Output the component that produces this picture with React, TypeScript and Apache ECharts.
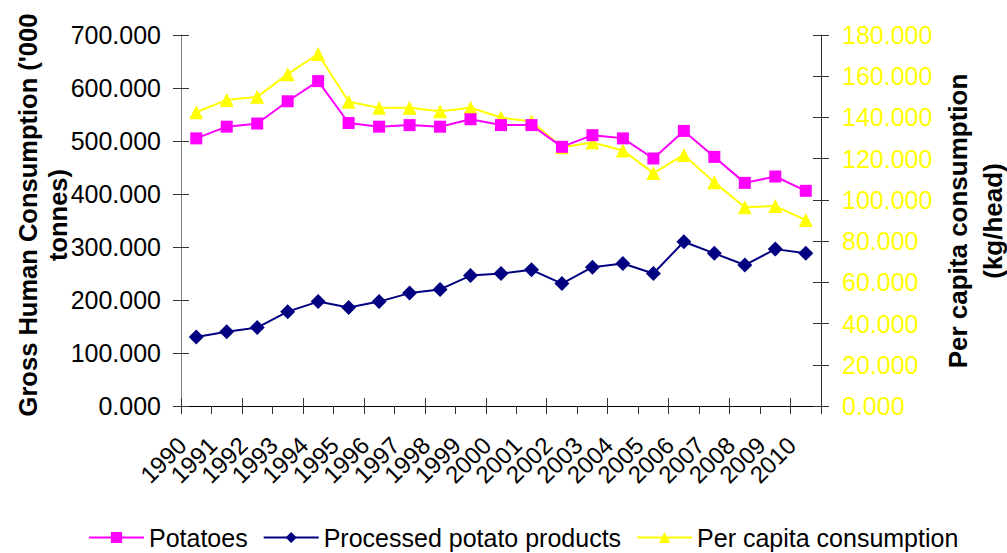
import React, { useEffect, useRef } from "react";
import * as echarts from "echarts";

// Years on the category axis
const years = [
  "1990", "1991", "1992", "1993", "1994", "1995", "1996", "1997", "1998", "1999",
  "2000", "2001", "2002", "2003", "2004", "2005", "2006", "2007", "2008", "2009", "2010",
];

// Gross human consumption, '000 tonnes
const potatoes = [
  505, 527, 533, 575, 613, 534, 527, 530, 527, 541,
  530, 530, 489, 511, 505, 467, 519, 470, 421, 433, 406,
];
const processed = [
  130, 140, 148, 178, 197, 186, 197, 213, 220, 246,
  250, 257, 231, 262, 269, 250, 310, 288, 266, 296, 288,
];

// Per capita consumption, kg/head
const perCapita = [
  142.5, 148.5, 150, 161, 170.8, 147.6, 144.7, 144.7, 143, 144.7,
  140, 138, 125.5, 127.8, 124, 113, 121.8, 108.5, 96.4, 97, 90.2,
];

const FONT = "'Liberation Sans', Arial, sans-serif";
const fmt = (v: number) => v.toFixed(3);

export default function App() {
  const ref = useRef<HTMLDivElement>(null);

  useEffect(() => {
    if (!ref.current) return;
    const chart = echarts.init(ref.current, undefined, { renderer: "svg" });

    // Second set of axes carrying only inward ticks, so the ticks cross the axis lines
    const tickCross = { show: true, inside: true, length: 8, lineStyle: { color: "#333" } };

    chart.setOption({
      animation: false,
      backgroundColor: "#ffffff",
      textStyle: { fontFamily: FONT },
      grid: { left: 181, right: 186, top: 35, bottom: 147 },
      legend: {
        left: 83,
        top: 520,
        itemWidth: 55,
        itemHeight: 14,
        itemGap: 15,
        textStyle: { fontFamily: FONT, fontSize: 25, color: "#000" },
        data: ["Potatoes", "Processed potato products", "Per capita consumption"],
      },
      xAxis: [
        {
          type: "category",
          data: years,
          position: "bottom",
          boundaryGap: true,
          axisLine: { lineStyle: { color: "#000", width: 1 } },
          axisTick: { show: true, length: 8, lineStyle: { color: "#333" } },
          axisLabel: {
            interval: 0,
            rotate: 45,
            margin: 21,
            padding: [0, 20, 0, 0],
            fontSize: 24,
            fontFamily: FONT,
            color: "#000",
          },
          splitLine: { show: false },
        },
        {
          type: "category",
          data: years,
          position: "bottom",
          boundaryGap: true,
          axisLine: { show: false },
          axisTick: tickCross,
          axisLabel: { show: false },
          splitLine: { show: false },
        },
      ],
      yAxis: [
        {
          type: "value",
          position: "left",
          min: 0,
          max: 700,
          interval: 100,
          axisLine: { show: true, lineStyle: { color: "#808080", width: 1 } },
          axisTick: { show: true, length: 8, lineStyle: { color: "#333" } },
          axisLabel: { formatter: fmt, margin: 20, fontSize: 25, fontFamily: FONT, color: "#000" },
          splitLine: { show: false },
        },
        {
          type: "value",
          position: "right",
          min: 0,
          max: 180,
          interval: 20,
          axisLine: { show: true, lineStyle: { color: "#333", width: 1 } },
          axisTick: { show: true, length: 8, lineStyle: { color: "#333" } },
          axisLabel: { formatter: fmt, margin: 21, fontSize: 25, fontFamily: FONT, color: "#ffff00" },
          splitLine: { show: false },
        },
        {
          type: "value",
          position: "left",
          min: 0,
          max: 700,
          interval: 100,
          axisLine: { show: false },
          axisTick: tickCross,
          axisLabel: { show: false },
          splitLine: { show: false },
        },
        {
          type: "value",
          position: "right",
          min: 0,
          max: 180,
          interval: 20,
          axisLine: { show: false },
          axisTick: tickCross,
          axisLabel: { show: false },
          splitLine: { show: false },
        },
      ],
      series: [
        {
          name: "Potatoes",
          type: "line",
          data: potatoes,
          xAxisIndex: 0,
          yAxisIndex: 0,
          symbol: "rect",
          symbolSize: 12,
          color: "#ff00ff",
          lineStyle: { color: "#ff00ff", width: 2 },
          itemStyle: { color: "#ff00ff" },
          z: 3,
        },
        {
          name: "Processed potato products",
          type: "line",
          data: processed,
          xAxisIndex: 0,
          yAxisIndex: 0,
          symbol: "diamond",
          symbolSize: 15,
          color: "#000080",
          lineStyle: { color: "#000080", width: 2 },
          itemStyle: { color: "#000080" },
          z: 3,
        },
        {
          name: "Per capita consumption",
          type: "line",
          data: perCapita,
          xAxisIndex: 0,
          yAxisIndex: 1,
          symbol: "triangle",
          symbolSize: 14,
          color: "#ffff00",
          lineStyle: { color: "#ffff00", width: 2 },
          itemStyle: { color: "#ffff00" },
          z: 2,
        },
      ],
      graphic: [
        {
          type: "text",
          x: 43,
          y: 215,
          rotation: Math.PI / 2,
          style: {
            text: "Gross Human Consumption ('000\ntonnes)",
            font: `bold 25.5px ${FONT}`,
            fill: "#000",
            align: "center",
            verticalAlign: "middle",
            lineHeight: 30,
          },
        },
        {
          type: "text",
          x: 975,
          y: 221,
          rotation: Math.PI / 2,
          style: {
            text: "Per capita consumption\n(kg/head)",
            font: `bold 26px ${FONT}`,
            fill: "#000",
            align: "center",
            verticalAlign: "middle",
            lineHeight: 35,
          },
        },
      ],
    });

    return () => chart.dispose();
  }, []);

  return <div ref={ref} style={{ width: 1007, height: 553, position: "absolute", left: 0, top: 0 }} />;
}
